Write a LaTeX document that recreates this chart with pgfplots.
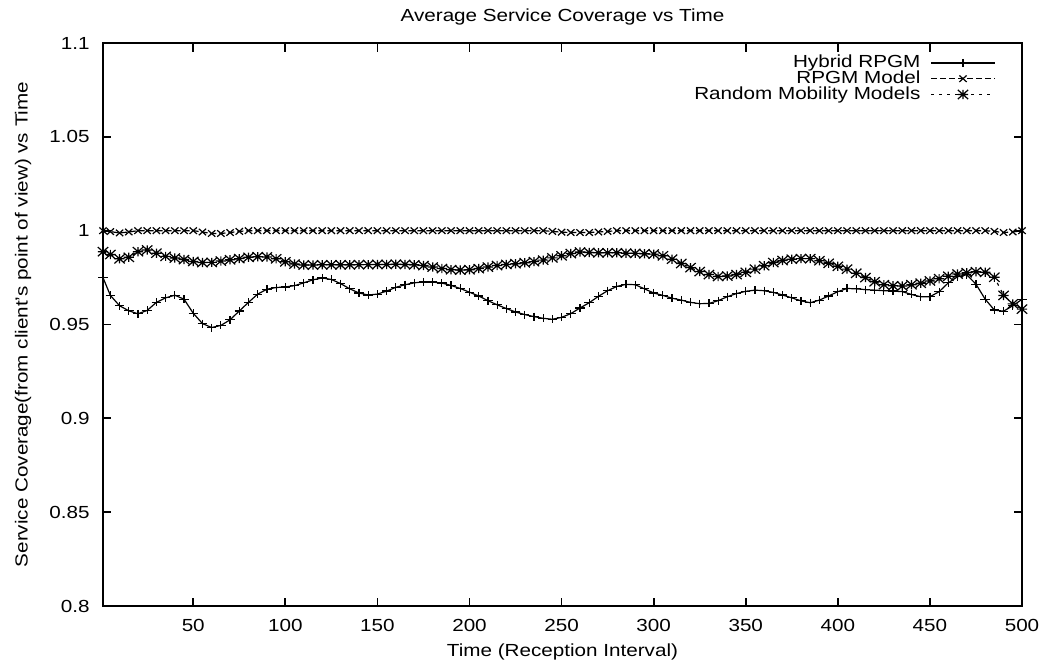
\documentclass[border=0pt]{standalone}
\usepackage{fontspec}
\setmainfont{Liberation Sans}[FakeStretch=1.18]
\usepackage{pgfplots}
\usepackage{pgfplotstable}
\pgfplotsset{compat=1.18}

\pgfdeclareplotmark{gpstar}{%
  \pgfpathmoveto{\pgfqpoint{-\pgfplotmarksize}{0pt}}\pgfpathlineto{\pgfqpoint{\pgfplotmarksize}{0pt}}%
  \pgfpathmoveto{\pgfqpoint{0pt}{-\pgfplotmarksize}}\pgfpathlineto{\pgfqpoint{0pt}{\pgfplotmarksize}}%
  \pgfpathmoveto{\pgfqpoint{-\pgfplotmarksize}{-\pgfplotmarksize}}\pgfpathlineto{\pgfqpoint{\pgfplotmarksize}{\pgfplotmarksize}}%
  \pgfpathmoveto{\pgfqpoint{-\pgfplotmarksize}{\pgfplotmarksize}}\pgfpathlineto{\pgfqpoint{\pgfplotmarksize}{-\pgfplotmarksize}}%
  \pgfusepathqstroke}

\pgfplotstableread{
x hyb rpgm rand
1 0.9750 1.0000 0.9888
5 0.9655 0.9995 0.9873
10 0.9600 0.9988 0.9850
15 0.9573 0.9993 0.9858
20 0.9557 1.0000 0.9888
25 0.9575 1.0000 0.9897
30 0.9618 1.0000 0.9880
35 0.9642 1.0000 0.9863
40 0.9656 1.0000 0.9854
45 0.9635 1.0000 0.9846
50 0.9560 1.0000 0.9836
55 0.9505 0.9993 0.9830
60 0.9484 0.9985 0.9831
65 0.9495 0.9985 0.9838
70 0.9525 0.9990 0.9845
75 0.9572 0.9996 0.9851
80 0.9618 1.0000 0.9858
85 0.9662 1.0000 0.9861
90 0.9688 1.0000 0.9860
95 0.9697 1.0000 0.9850
100 0.9700 1.0000 0.9834
105 0.9707 1.0000 0.9822
110 0.9722 1.0000 0.9817
115 0.9738 1.0000 0.9817
120 0.9748 1.0000 0.9818
125 0.9740 1.0000 0.9818
130 0.9718 1.0000 0.9818
135 0.9690 1.0000 0.9818
140 0.9668 1.0000 0.9819
145 0.9657 1.0000 0.9819
150 0.9662 1.0000 0.9820
155 0.9678 1.0000 0.9820
160 0.9698 1.0000 0.9821
165 0.9712 1.0000 0.9820
170 0.9722 1.0000 0.9818
175 0.9727 1.0000 0.9814
180 0.9726 1.0000 0.9806
185 0.9721 1.0000 0.9798
190 0.9708 1.0000 0.9792
195 0.9692 1.0000 0.9790
200 0.9672 1.0000 0.9792
205 0.9652 1.0000 0.9798
210 0.9627 1.0000 0.9806
215 0.9605 1.0000 0.9814
220 0.9585 1.0000 0.9820
225 0.9567 1.0000 0.9824
230 0.9553 1.0000 0.9829
235 0.9542 1.0000 0.9835
240 0.9533 1.0000 0.9843
245 0.9528 0.9996 0.9855
250 0.9538 0.9992 0.9866
255 0.9558 0.9990 0.9878
260 0.9588 0.9990 0.9886
265 0.9616 0.9990 0.9884
270 0.9650 0.9993 0.9882
275 0.9680 0.9996 0.9882
280 0.9703 1.0000 0.9882
285 0.9714 1.0000 0.9880
290 0.9712 1.0000 0.9879
295 0.9690 1.0000 0.9877
300 0.9668 1.0000 0.9875
305 0.9655 1.0000 0.9866
310 0.9640 1.0000 0.9848
315 0.9630 1.0000 0.9825
320 0.9618 1.0000 0.9803
325 0.9611 1.0000 0.9782
330 0.9612 1.0000 0.9766
335 0.9627 1.0000 0.9756
340 0.9648 1.0000 0.9758
345 0.9665 1.0000 0.9766
350 0.9677 1.0000 0.9778
355 0.9683 1.0000 0.9795
360 0.9680 1.0000 0.9813
365 0.9671 1.0000 0.9830
370 0.9657 1.0000 0.9841
375 0.9642 1.0000 0.9848
380 0.9626 1.0000 0.9851
385 0.9616 1.0000 0.9851
390 0.9630 1.0000 0.9840
395 0.9652 1.0000 0.9826
400 0.9675 1.0000 0.9810
405 0.9692 1.0000 0.9795
410 0.9690 1.0000 0.9773
415 0.9686 1.0000 0.9750
420 0.9683 1.0000 0.9728
425 0.9680 1.0000 0.9712
430 0.9678 1.0000 0.9706
435 0.9675 1.0000 0.9705
440 0.9660 1.0000 0.9712
445 0.9648 1.0000 0.9720
450 0.9648 1.0000 0.9732
455 0.9675 1.0000 0.9744
460 0.9722 1.0000 0.9757
465 0.9755 1.0000 0.9769
470 0.9765 1.0000 0.9776
475 0.9715 1.0000 0.9781
480 0.9635 1.0000 0.9778
485 0.9577 0.9996 0.9752
490 0.9571 0.9990 0.9655
495 0.9600 0.9993 0.9610
500 0.9634 1.0000 0.9582
}\datatable

\begin{document}
\begin{tikzpicture}[font=\fontsize{8.75}{10.5}\selectfont]
\begin{axis}[
  scale only axis,
  width=459.5pt, height=281.5pt,
  xmin=1, xmax=500, ymin=0.8, ymax=1.1,
  xtick={50,100,150,200,250,300,350,400,450,500},
  ytick={0.8,0.85,0.9,0.95,1,1.05,1.1},
  yticklabels={0.8,0.85,0.9,0.95,1,1.05,1.1},
  /pgf/number format/assume math mode=true,
  tick align=inside, tick pos=both,
  major tick length=4.25pt,
  tick style={line width=0.9pt, black},
  axis line style={line width=1pt},
  xticklabel style={inner sep=0pt, yshift=-6.5pt},
  yticklabel style={inner sep=0pt, xshift=-6.5pt},
  every axis title shift=0pt,
  title={Average Service Coverage vs Time},
  title style={at={(axis description cs:0.5,1)}, anchor=base, yshift=11pt, inner sep=0pt},
  xlabel={Time (Reception Interval)},
  xlabel style={at={(axis description cs:0.5,0)}, anchor=base, yshift=-25pt, inner sep=0pt},
  ylabel={Service Coverage(from client's point of view) vs Time},
  ylabel style={at={(axis description cs:-0.0819,0.5)}, anchor=base, inner sep=0pt},
  legend plot pos=right,
  legend cell align=right,
  legend style={at={(axis description cs:1,1)}, anchor=north east, xshift=-13pt, yshift=-6pt,
    draw=none, fill=none, inner sep=0pt, row sep=0.4pt, column sep=5pt,
    nodes={inner sep=0pt, text height=6.25pt, text depth=1.25pt}},
  legend image code/.code={\draw[mark repeat=2,mark phase=2,#1] plot coordinates {(0pt,0pt) (16pt,0pt) (32pt,0pt)};},
]
\addplot[black, line width=0.6pt, mark=+, mark size=2pt, mark options={solid, line width=0.6pt, xscale=1.18}] table[x=x, y=hyb] {\datatable};
\addlegendentry{Hybrid RPGM}
\addplot[black, line width=0.6pt, dash pattern=on 3pt off 1.5pt, mark=x, mark size=2.3pt, mark options={solid, line width=0.6pt, xscale=1.12}] table[x=x, y=rpgm] {\datatable};
\addlegendentry{RPGM Model}
\addplot[black, line width=0.6pt, dash pattern=on 1.5pt off 2.5pt, mark=gpstar, mark size=2.3pt, mark options={solid, line width=0.6pt, xscale=1.12}] table[x=x, y=rand] {\datatable};
\addlegendentry{Random Mobility Models}
\end{axis}
\pgfresetboundingbox
\path[use as bounding box] (-51.5pt,-29.5pt) rectangle (470pt,303pt);
\end{tikzpicture}
\end{document}
